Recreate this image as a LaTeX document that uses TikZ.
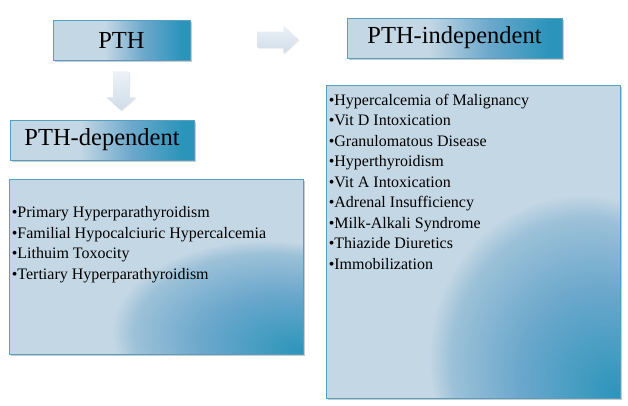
\documentclass[tikz,border=0pt]{standalone}
\usepackage{fontspec}
\setmainfont{Liberation Serif}
\usetikzlibrary{positioning, calc, shadows}

\definecolor{boxlight}{RGB}{196,215,228}
\definecolor{boxpale}{RGB}{156,193,216}
\definecolor{boxmid}{RGB}{108,168,204}
\definecolor{boxblue}{RGB}{42,148,186}
\definecolor{boxedge}{RGB}{84,160,194}
\definecolor{arrowtop}{RGB}{236,242,247}
\definecolor{arrowbot}{RGB}{206,220,233}

\pgfdeclareradialshading{cornershade}{\pgfpoint{25bp}{-25bp}}{%
  color(0bp)=(boxblue); color(14bp)=(boxmid); color(23bp)=(boxpale);
  color(26bp)=(boxlight); color(100bp)=(boxlight)}
\pgfdeclarehorizontalshading{titleshade}{100bp}{%
  color(0bp)=(boxlight); color(44bp)=(boxlight); color(58bp)=(boxmid);
  color(72bp)=(boxblue); color(100bp)=(boxblue)}

\tikzset{
  boxshadow/.style={drop shadow={shadow xshift=1.5pt, shadow yshift=-1.5pt,
      opacity=0.35, fill=black!60}},
  titlebox/.style={draw=boxedge, line width=0.8pt, shading=titleshade,
      boxshadow, font=\fontsize{24.5}{28}\selectfont, inner sep=0pt},
  listbox/.style={draw=boxedge, line width=0.8pt, shading=cornershade,
      boxshadow, inner sep=0pt},
  listtext/.style={align=left, anchor=north west, inner sep=0pt,
      font=\fontsize{16}{20.5}\selectfont},
  blockarrow/.style={draw=none, top color=arrowtop, bottom color=arrowbot,
      drop shadow={shadow xshift=1pt, shadow yshift=-1pt, opacity=0.2}},
}

\begin{document}
\begin{tikzpicture}[x=1pt, y=-1pt]
  \useasboundingbox (0,0) rectangle (628,405);

  % titles
  \node[titlebox, minimum width=137pt, minimum height=40pt] (pth) at (121.5,40) {PTH};
  \node[titlebox, minimum width=184pt, minimum height=40pt] (dep) at (102,140) {PTH-dependent};
  \node[titlebox, minimum width=215pt, minimum height=40pt] (indep) at (454.5,38) {PTH-independent};

  % lists
  \node[listbox, minimum width=294pt, minimum height=175pt] (deplist) at (156,266.5) {};
  \node[listbox, minimum width=294pt, minimum height=313pt] (indeplist) at (473,241.5) {};

  \node[listtext] (deptext) at ([shift={(3,28)}]deplist.north west)
    {\textbullet Primary Hyperparathyroidism\\
     \textbullet Familial Hypocalciuric Hypercalcemia\\
     \textbullet Lithuim Toxocity\\
     \textbullet Tertiary Hyperparathyroidism};
  \node[listtext] (indeptext) at ([shift={(3,9)}]indeplist.north west)
    {\textbullet Hypercalcemia of  Malignancy\\
     \textbullet Vit D Intoxication\\
     \textbullet Granulomatous Disease\\
     \textbullet Hyperthyroidism\\
     \textbullet Vit A Intoxication\\
     \textbullet Adrenal Insufficiency\\
     \textbullet Milk-Alkali Syndrome\\
     \textbullet Thiazide Diuretics\\
     \textbullet Immobilization};

  % arrows
  \path[blockarrow] ($(pth.south)+(-8.5,11)$) -- ++(16,0) -- ++(0,26) -- ++(6.5,0)
    -- ++(-14.5,13) -- ++(-14.5,-13) -- ++(6.5,0) -- cycle;
  \path[blockarrow] ($(pth.east)+(67,-8.5)$) -- ++(26,0) -- ++(0,-6) -- ++(15,14)
    -- ++(-15,14) -- ++(0,-6) -- ++(-26,0) -- cycle;
\end{tikzpicture}
\end{document}
